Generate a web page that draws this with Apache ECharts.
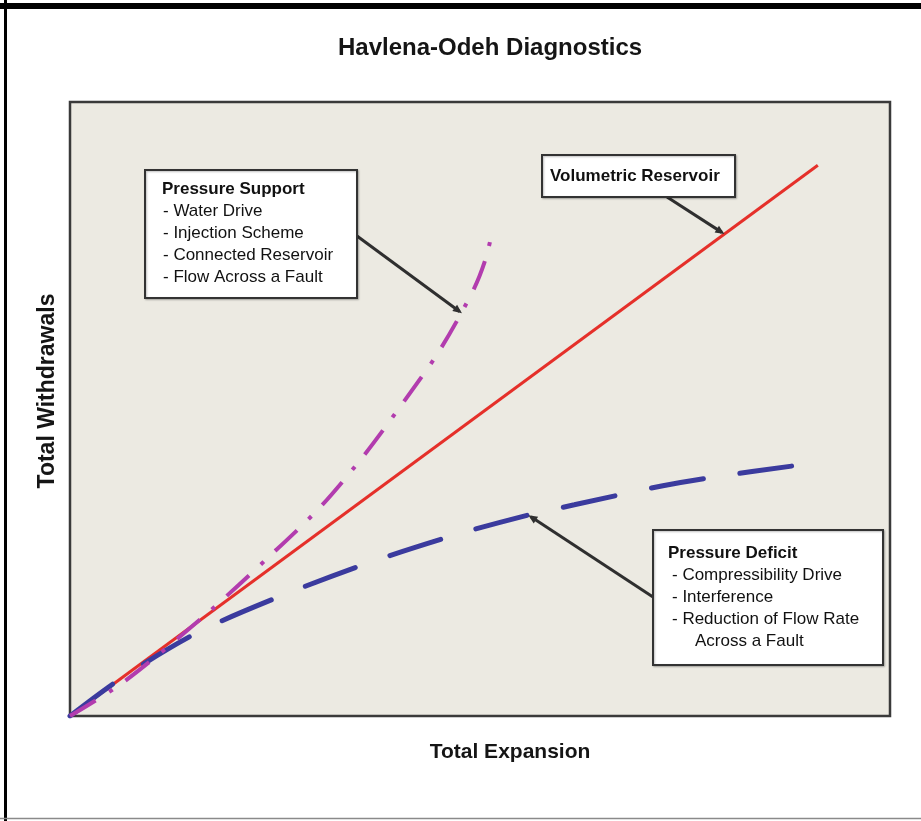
<!DOCTYPE html>
<html><head><meta charset="utf-8">
<script src="https://cdn.jsdelivr.net/npm/echarts@6/dist/echarts.min.js"></script>
<style>html,body{margin:0;padding:0;background:#fff;} #c{width:921px;height:821px;}</style>
</head><body><div id="c"></div>
<script>
// ---- data ----
const volumetricX = [0, 91.2];
const volumetricY = [0, 89.7];
const supportX = [0, 6.5, 16.2, 24.8, 30.5, 35.7, 40.6, 45.1, 49.2, 50.7, 51.6];
const supportY = [0, 5.5, 16.1, 26.6, 34.0, 42.2, 51.0, 59.6, 69.4, 74.5, 79.6];
const deficitX = [0, 6.3, 15.7, 26.0, 36.3, 47.0, 54.9, 61.5, 72.3, 79.5, 88.0];
const deficitY = [0, 6.2, 13.7, 19.7, 24.9, 29.5, 32.4, 34.4, 37.5, 39.1, 40.7];

// ---- annotation texts and anchor points (data coords of arrow tips) ----
const supportLines = ['Pressure Support', '- Water Drive', '- Injection Scheme', '- Connected Reservoir', '- Flow Across a Fault'];
const volumetricLines = ['Volumetric Reservoir'];
const deficitLines = ['Pressure Deficit', '- Compressibility Drive', '- Interference', '- Reduction of Flow Rate', 'Across a Fault'];
const volumetricTip = [79.8, 78.5];
const supportTip = [47.8, 65.6];
const deficitTip = [55.9, 32.7];

const FONT = 'Liberation Sans, Arial, sans-serif';
const zip = (xs, ys) => xs.map((x, i) => [x, ys[i]]);

const chart = echarts.init(document.getElementById('c'), null, {renderer: 'canvas'});
const option = {
  animation: false,
  backgroundColor: '#ffffff',
  title: {
    text: 'Havlena-Odeh Diagnostics',
    left: 338, top: 36, padding: 0,
    textStyle: {fontFamily: FONT, fontWeight: 'bold', fontSize: 24, color: '#151515'}
  },
  grid: {
    left: 70, top: 102, right: 31, bottom: 105,
    show: true, backgroundColor: '#ECEAE2', borderColor: '#3a3a3a', borderWidth: 2.5
  },
  xAxis: {
    type: 'value', min: 0, max: 100,
    axisLine: {show: false}, axisTick: {show: false}, axisLabel: {show: false}, splitLine: {show: false},
    name: 'Total Expansion', nameLocation: 'middle', nameGap: 26,
    nameTextStyle: {fontFamily: FONT, fontWeight: 'bold', fontSize: 21, color: '#151515', padding: [0, 0, 0, 60]}
  },
  yAxis: {
    type: 'value', min: 0, max: 100,
    axisLine: {show: false}, axisTick: {show: false}, axisLabel: {show: false}, splitLine: {show: false},
    name: 'Total Withdrawals', nameLocation: 'middle', nameGap: 11,
    nameTextStyle: {fontFamily: FONT, fontWeight: 'bold', fontSize: 23, color: '#151515', padding: [0, 0, 0, 36]}
  },
  series: [
    {
      name: 'Volumetric Reservoir', type: 'line', data: zip(volumetricX, volumetricY),
      showSymbol: false, symbol: 'none',
      lineStyle: {color: '#E5302A', width: 3}
    },
    {
      name: 'Pressure Deficit', type: 'line', data: zip(deficitX, deficitY),
      showSymbol: false, symbol: 'none', smooth: 0.3,
      lineStyle: {color: '#3B3B9E', width: 5, type: [53, 37], cap: 'round'}
    },
    {
      name: 'Pressure Support', type: 'line', data: zip(supportX, supportY),
      showSymbol: false, symbol: 'none', smooth: 0.3,
      lineStyle: {color: '#B23CAE', width: 4, type: [30, 16, 4, 16]}
    }
  ]
};
chart.setOption(option);

function arrow(tail, tip) {
  const dx = tip[0] - tail[0], dy = tip[1] - tail[1];
  const len = Math.sqrt(dx * dx + dy * dy);
  const ux = dx / len, uy = dy / len, nx = -uy, ny = ux;
  const L = 9, W = 4;
  return [
    {type: 'line', z: 50, shape: {x1: tail[0], y1: tail[1], x2: tip[0] - ux * 3, y2: tip[1] - uy * 3},
     style: {stroke: '#2f2f2f', lineWidth: 3}},
    {type: 'polygon', z: 50, shape: {points: [
      [tip[0], tip[1]],
      [tip[0] - ux * L + nx * W, tip[1] - uy * L + ny * W],
      [tip[0] - ux * L - nx * W, tip[1] - uy * L - ny * W]]},
     style: {fill: '#2f2f2f'}}
  ];
}
function box(x, y, w, h) {
  return {type: 'rect', z: 60, shape: {x: x, y: y, width: w, height: h},
    style: {fill: '#ffffff', stroke: '#333333', lineWidth: 2,
      shadowColor: 'rgba(0,0,0,0.25)', shadowBlur: 2, shadowOffsetX: 1, shadowOffsetY: 1}};
}
function txt(s, x, y, bold) {
  return {type: 'text', z: 61, style: {text: s, x: x, y: y, fill: '#111111',
    font: (bold ? 'bold ' : '') + '17px ' + FONT,
    textAlign: 'left', textVerticalAlign: 'middle', verticalAlign: 'middle'}};
}

const pVol = chart.convertToPixel({gridIndex: 0}, volumetricTip);
const pSup = chart.convertToPixel({gridIndex: 0}, supportTip);
const pDef = chart.convertToPixel({gridIndex: 0}, deficitTip);

const g = [];
// outer frame
g.push({type: 'line', z: 100, shape: {x1: 0, y1: 6, x2: 921, y2: 6}, style: {stroke: '#000', lineWidth: 6}});
g.push({type: 'line', z: 100, shape: {x1: 5.5, y1: 0, x2: 5.5, y2: 821}, style: {stroke: '#000', lineWidth: 3}});
g.push({type: 'line', z: 100, shape: {x1: 0, y1: 818.5, x2: 921, y2: 818.5}, style: {stroke: '#8a8a8a', lineWidth: 1.5}});
// arrows
g.push(...arrow([357, 236], pSup));
g.push(...arrow([667, 197], pVol));
g.push(...arrow([653, 597], pDef));
// Pressure Support box
g.push(box(145, 170, 212, 128));
supportLines.forEach((s, i) => g.push(txt(s, i === 0 ? 162 : 163, 189 + 22 * i, i === 0)));
// Volumetric box
g.push(box(542, 155, 193, 42));
volumetricLines.forEach((s, i) => g.push(txt(s, 550, 176, true)));
// Pressure Deficit box
g.push(box(653, 530, 230, 135));
deficitLines.forEach((s, i) => g.push(txt(s, i === 0 ? 668 : (i === 4 ? 695 : 672), 553 + 22 * i, i === 0)));

chart.setOption({graphic: g});
</script>
</body></html>
